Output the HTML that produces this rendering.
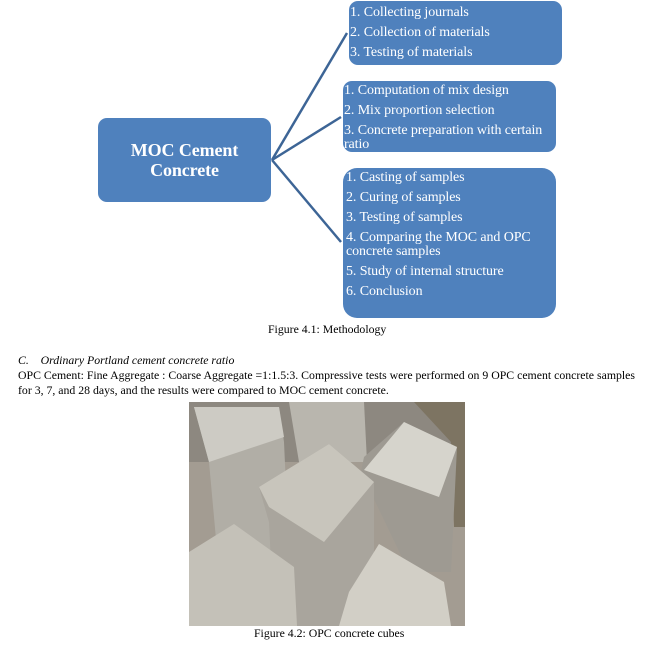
<!DOCTYPE html>
<html><head><style>
body{margin:0;width:648px;height:645px;background:#fff;position:relative;font-family:"Liberation Serif",serif;overflow:hidden}
.b{position:absolute;background:#4f81bd;border-radius:9px;color:#fff;font-size:14px;line-height:20px;box-sizing:border-box;letter-spacing:-0.1px}
.t{position:absolute;font-size:11.8px;color:#000;white-space:nowrap}
</style></head><body>
<svg width="648" height="645" style="position:absolute;left:0;top:0">
<g stroke="#3d6596" stroke-width="2.5" fill="none">
<line x1="272" y1="160" x2="347" y2="33"/>
<line x1="272" y1="160" x2="341" y2="117"/>
<line x1="272" y1="160" x2="341" y2="242"/>
</g>
<g transform="translate(189,402)">
<rect width="276" height="224" fill="#a39c92"/>
<rect x="0" y="0" width="276" height="60" fill="#8d8880"/>
<polygon points="5,5 90,5 95,40 100,150 30,170 20,60" fill="#b1aea6"/>
<polygon points="5,5 90,5 95,35 20,60" fill="#cdcbc4"/>
<polygon points="100,0 175,0 178,60 110,60" fill="#b9b6ae"/>
<polygon points="225,0 276,0 276,125 265,125 262,40" fill="#7d7462"/>
<polygon points="175,55 215,20 268,45 262,170 220,170 172,70" fill="#9e9a92"/>
<polygon points="175,68 215,20 268,45 250,95" fill="#d6d4cc"/>
<polygon points="70,85 140,42 185,80 185,224 85,224 80,120" fill="#a9a59d"/>
<polygon points="70,85 140,42 185,80 135,140 80,105" fill="#c8c5bc"/>
<polygon points="0,150 45,122 105,165 108,224 0,224" fill="#c4c1b8"/>
<polygon points="160,190 190,142 255,180 262,224 150,224" fill="#d2cfc6"/>
</g>
</svg>
<div class="b" style="left:98px;top:118px;width:173px;height:84px;font-weight:bold;font-size:18px;line-height:20px;text-align:center;padding-top:22px">MOC Cement<br>Concrete</div>
<div class="b" style="left:349px;top:1px;width:213px;height:64px;padding:2px 0 0 1px">1. Collecting journals<br>2. Collection of materials<br>3. Testing of materials</div>
<div class="b" style="left:343px;top:81px;width:213px;height:71px;padding:0 0 0 1px;line-height:20px">1. Computation of mix design<br>2. Mix proportion selection<br><span style="display:block;line-height:14px;padding-top:3px">3. Concrete preparation with certain ratio</span></div>
<div class="b" style="left:343px;top:168px;width:213px;height:150px;padding:0 0 0 3px;border-radius:14px">1. Casting of samples<br>2. Curing of samples<br>3. Testing of samples<br><span style="display:block;line-height:14px;padding-top:3px">4. Comparing the MOC and OPC concrete samples</span><span style="display:block;margin-top:3px">5. Study of internal structure<br>6. Conclusion</span></div>
<div class="t" style="left:268px;top:322px">Figure 4.1: Methodology</div>
<div class="t" style="left:18px;top:353px;font-style:italic">C.&nbsp;&nbsp;&nbsp; Ordinary Portland cement concrete ratio</div>
<div class="t" style="left:18px;top:368px">OPC Cement: Fine Aggregate : Coarse Aggregate =1:1.5:3. Compressive tests were performed on 9 OPC cement concrete samples</div>
<div class="t" style="left:18px;top:383px">for 3, 7, and 28 days, and the results were compared to MOC cement concrete.</div>
<div class="t" style="left:254px;top:626px">Figure 4.2: OPC concrete cubes</div>
</body></html>
